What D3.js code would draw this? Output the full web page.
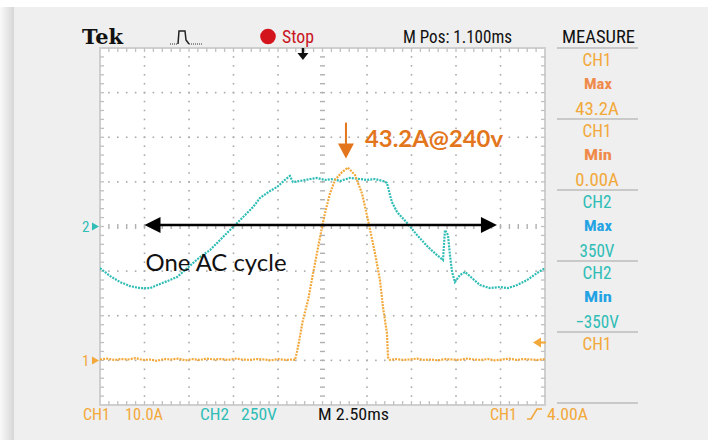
<!DOCTYPE html>
<html>
<head>
<meta charset="utf-8">
<script src="https://cdn.jsdelivr.net/npm/d3@7"></script>
<style>
  html, body { margin: 0; padding: 0; background: #fff; }
  svg { display: block; }
</style>
</head>
<body>
<svg id="scope" width="712" height="440"></svg>
<script>
// time across the screen, ms (10 div x 2.5 ms)
var ch1Time = [0, 0.4, 0.8, 1.2, 1.6, 2.0, 2.4, 2.8, 3.2, 3.6, 4.0, 4.4, 4.8, 5.2, 5.6, 6.0, 6.4, 6.8, 7.2, 7.6,
  8.0, 8.4, 8.8, 9.2, 9.6, 10.0, 10.4, 10.8,
  10.96, 11.12, 11.40, 11.69, 11.97, 12.25, 12.47, 12.64, 12.92, 13.20, 13.60, 13.93,
  14.33, 14.72, 15.06, 15.45, 15.73, 15.90, 16.12, 16.18, 16.29,
  16.6, 17.0, 17.4, 17.8, 18.2, 18.6, 19.0, 19.4, 19.8, 20.2, 20.6, 21.0, 21.4, 21.8, 22.2, 22.6,
  23.0, 23.4, 23.8, 24.2, 24.6, 25.0];
// CH1 current, A
var ch1Amps = [0.2, 0.4, 0.1, 0.3, 0.2, 0.5, 0.1, 0.2, -0.1, 0.3, 0.2, 0.4, 0.0, 0.3, 0.1, 0.4, 0.2, 0.3, 0.1, 0.4,
  0.2, 0.1, 0.3, 0.2, 0.0, 0.3, 0.1, 0.2,
  0.1, 2.9, 9.0, 13.5, 19.5, 25.3, 29.8, 33.0, 37.4, 40.4, 42.2, 43.2,
  41.5, 37.4, 31.4, 24.0, 17.9, 11.9, 6.1, 0.7, 0.1,
  0.3, 0.1, 0.2, 0.4, 0.1, 0.2, 0.0, 0.3, 0.2, 0.1, 0.4, 0.2, 0.1, 0.3, 0.0, 0.2,
  0.4, 0.1, 0.3, 0.2, 0.1, 0.3];

var ch2Time = [0, 0.56, 1.12, 1.69, 2.25, 2.81, 3.37, 3.93, 4.33, 4.78, 5.22, 5.62, 6.18, 6.74, 7.47, 7.87,
  8.60, 8.99, 9.55, 9.94, 10.39, 10.67, 10.84, 11.24, 11.80, 12.19, 12.64, 13.09, 13.48, 14.04, 14.61,
  15.00, 15.45, 15.90, 16.12, 16.29, 16.40, 16.69, 17.25, 17.81, 18.43, 18.93, 19.27, 19.38, 19.55,
  19.66, 19.78, 19.94, 20.22, 20.51, 20.90, 21.35, 21.91, 22.47, 22.92, 23.43, 23.99, 24.55, 25.0];
// CH2 voltage, V
var ch2Volts = [-233, -277, -311, -334, -345, -345, -322, -300, -283, -244, -205, -171, -132, -76, -3, 36,
  109, 160, 199, 221, 261, 283, 249, 255, 266, 272, 261, 266, 255, 272, 266,
  261, 266, 255, 244, 176, 137, 81, 20, -48, -115, -160, -188, -20, -48,
  -160, -255, -311, -272, -255, -289, -328, -345, -339, -345, -328, -300, -261, -233];

var cycleSpan = [2.5, 22.3];       // ms, "One AC cycle" marker
var peakTime = 13.93, peakAmps = 43.2;
var triggerLevel = 4.0;            // A
var triggerTime = 11.4;            // ms (M Pos 1.100ms left of centre)

var measureCh = ["CH1", "CH1", "CH2", "CH2", "CH1"];
var measureStat = ["Max", "Min", "Max", "Min", ""];
var measureVal = ["43.2A", "0.00A", "350V", "\u2212350V", ""];

var orange = "#f2a83a", orange2 = "#f08a4a", teal = "#2fbdb6", blue = "#23a3e3";
var scopeFont = "'Liberation Sans Narrow','Roboto Condensed','DejaVu Sans Condensed','Liberation Sans',sans-serif";

var svg = d3.select("#scope");
var pL = 100, pR = 545, pT = 48, pB = 405;

var x = d3.scaleLinear().domain([0, 25]).range([pL, pR]);
var yA = d3.scaleLinear().domain([-10, 70]).range([pB, pT]);
var yV = d3.scaleLinear().domain([-1000, 1000]).range([pB, pT]);

// background frame
var defs = svg.append("defs");
var sh = defs.append("linearGradient").attr("id", "shade");
sh.append("stop").attr("offset", "0%").attr("stop-color", "#fafafa");
sh.append("stop").attr("offset", "100%").attr("stop-color", "#d6d6d6");
svg.append("rect").attr("x", 0).attr("y", 0).attr("width", 712).attr("height", 440).attr("fill", "#fff");
svg.append("rect").attr("x", 0).attr("y", 7).attr("width", 14).attr("height", 433).attr("fill", "url(#shade)");
svg.append("rect").attr("x", 14).attr("y", 7).attr("width", 694).attr("height", 433).attr("fill", "#efefef");

function label(g, px, py, txt, o) {
  o = o || {};
  var t = g.append("text").attr("x", px).attr("y", py).text(txt)
    .attr("font-family", o.family || scopeFont)
    .attr("font-size", o.size || 18)
    .attr("font-weight", o.weight || "normal")
    .attr("fill", o.fill || "#111")
    .attr("text-anchor", o.anchor || "start");
  if (o.len) t.attr("textLength", o.len).attr("lengthAdjust", "spacingAndGlyphs");
  return t;
}

// plot area + graticule
var grid = svg.append("g");
grid.append("rect").attr("x", pL).attr("y", pT).attr("width", pR - pL).attr("height", pB - pT)
  .attr("fill", "#fff").attr("stroke", "#cfcfcf").attr("stroke-width", 2);

var majX = d3.range(0, 25.001, 2.5), minX = d3.range(0, 25.001, 0.5);
var majV = d3.range(-1000, 1000.1, 250), minV = d3.range(-1000, 1000.1, 50);

majX.slice(1, -1).forEach(function (t) {
  if (Math.abs(t - 12.5) < 0.01) return;
  grid.selectAll(null).data(minV.slice(1, -1)).enter().append("rect")
    .attr("x", x(t) - 0.8).attr("y", function (v) { return yV(v) - 0.8; })
    .attr("width", 1.6).attr("height", 1.6).attr("fill", "#aaaaaa");
});
majV.slice(1, -1).forEach(function (v) {
  if (v === 0) return;
  grid.selectAll(null).data(minX.slice(1, -1)).enter().append("rect")
    .attr("x", function (t) { return x(t) - 0.8; }).attr("y", yV(v) - 0.8)
    .attr("width", 1.6).attr("height", 1.6).attr("fill", "#aaaaaa");
});
// centre lines with minor ticks
grid.selectAll(null).data(minV.slice(1, -1)).enter().append("line")
  .attr("x1", x(12.5) - 2.5).attr("x2", x(12.5) + 2.5)
  .attr("y1", function (v) { return yV(v); }).attr("y2", function (v) { return yV(v); })
  .attr("stroke", "#b0b0b0").attr("stroke-width", 1.4);
grid.selectAll(null).data(minX.slice(1, -1)).enter().append("line")
  .attr("y1", yV(0) - 2.5).attr("y2", yV(0) + 2.5)
  .attr("x1", function (t) { return x(t); }).attr("x2", function (t) { return x(t); })
  .attr("stroke", "#b0b0b0").attr("stroke-width", 1.4);
// border ticks
[pT, pB].forEach(function (yy) {
  var d = yy === pT ? 1 : -1;
  grid.selectAll(null).data(minX.slice(1, -1)).enter().append("line")
    .attr("x1", function (t) { return x(t); }).attr("x2", function (t) { return x(t); })
    .attr("y1", yy).attr("y2", yy + 4 * d).attr("stroke", "#c0c0c0").attr("stroke-width", 1.3);
});
[pL, pR].forEach(function (xx) {
  var d = xx === pL ? 1 : -1;
  grid.selectAll(null).data(minV.slice(1, -1)).enter().append("line")
    .attr("y1", function (v) { return yV(v); }).attr("y2", function (v) { return yV(v); })
    .attr("x1", xx).attr("x2", xx + 4 * d).attr("stroke", "#c0c0c0").attr("stroke-width", 1.3);
});

// traces
defs.append("clipPath").attr("id", "clip").append("rect")
  .attr("x", pL).attr("y", pT).attr("width", pR - pL).attr("height", pB - pT);
var traces = svg.append("g").attr("clip-path", "url(#clip)");

var ch2Line = d3.line().x(function (d, i) { return x(ch2Time[i]); }).y(function (d) { return yV(d); });
var ch1Line = d3.line().x(function (d, i) { return x(ch1Time[i]); }).y(function (d) { return yA(d); });

traces.append("path").attr("d", ch2Line(ch2Volts)).attr("fill", "none")
  .attr("stroke", teal).attr("stroke-width", 2.2).attr("stroke-dasharray", "2 1.1");
traces.append("path").attr("d", ch1Line(ch1Amps)).attr("fill", "none")
  .attr("stroke", orange).attr("stroke-width", 2.2).attr("stroke-dasharray", "2 1.1");

// channel markers
var mk = svg.append("g");
label(mk, 82, yV(0) + 5.5, "2", { size: 15, fill: teal });
mk.append("path").attr("d", "M92," + (yV(0) - 4) + "L99," + yV(0) + "L92," + (yV(0) + 4) + "Z").attr("fill", teal);
label(mk, 82, yA(0) + 5.5, "1", { size: 15, fill: orange });
mk.append("path").attr("d", "M92," + (yA(0) - 4) + "L99," + yA(0) + "L92," + (yA(0) + 4) + "Z").attr("fill", orange);
// trigger level
var tl = yA(triggerLevel);
mk.append("path").attr("d", "M533," + tl + "L541," + (tl - 5) + "L541," + (tl + 5) + "Z").attr("fill", orange);
mk.append("line").attr("x1", 540).attr("x2", 546).attr("y1", tl).attr("y2", tl).attr("stroke", orange).attr("stroke-width", 2);
// trigger position
var tp = x(triggerTime);
mk.append("rect").attr("x", tp - 1.2).attr("y", 48).attr("width", 2.4).attr("height", 6).attr("fill", "#111");
mk.append("path").attr("d", "M" + (tp - 5.5) + ",53L" + (tp + 5.5) + ",53L" + tp + ",60Z").attr("fill", "#111");

// top bar
var topBar = svg.append("g");
label(topBar, 82, 44, "Tek", { family: "'DejaVu Serif','Liberation Serif',serif", weight: "bold", size: 21, len: 41 });
topBar.append("path").attr("d", "M170,44H178").attr("stroke", "#333").attr("stroke-width", 1.2).attr("stroke-dasharray", "1 1").attr("fill", "none");
topBar.append("path").attr("d", "M178,44L179,31H185L186,40L189,44").attr("stroke", "#222").attr("stroke-width", 1.5).attr("fill", "none");
topBar.append("path").attr("d", "M189,44H202").attr("stroke", "#333").attr("stroke-width", 1.2).attr("stroke-dasharray", "1 1").attr("fill", "none");
topBar.append("circle").attr("cx", 268).attr("cy", 36.5).attr("r", 7.8).attr("fill", "#d4141c");
label(topBar, 282, 43, "Stop", { fill: "#c8141e", size: 18, len: 32 });
label(topBar, 403, 43, "M Pos: 1.100ms", { size: 18, len: 109 });
label(topBar, 562, 43, "MEASURE", { size: 18, len: 73 });

// measure panel
var panel = svg.append("g");
var blockH = 71;
d3.range(6).forEach(function (i) {
  var yy = 48 + i * blockH;
  panel.append("line").attr("x1", 557).attr("x2", 638).attr("y1", yy).attr("y2", yy)
    .attr("stroke", "#bdbdbd").attr("stroke-width", 1.5);
});
measureCh.forEach(function (ch, i) {
  var y0 = 48 + i * blockH;
  var isCh1 = ch === "CH1";
  label(panel, 597, y0 + 17.5, ch, { anchor: "middle", fill: isCh1 ? orange : teal, size: 18, len: 29 });
  if (measureStat[i]) label(panel, 598, y0 + 40.5, measureStat[i],
    { anchor: "middle", fill: isCh1 ? orange2 : blue, size: 15, weight: "bold", len: 28 });
  if (measureVal[i]) label(panel, 597, y0 + 67, measureVal[i],
    { anchor: "middle", fill: isCh1 ? orange : teal, size: 18, len: measureVal[i].length * 8.6 + 0.5 });
});

// bottom bar
var bot = svg.append("g");
label(bot, 83, 420, "CH1", { fill: orange, size: 17, len: 27 });
label(bot, 125, 420, "10.0A", { fill: orange, size: 17, len: 38 });
label(bot, 200, 420, "CH2", { fill: teal, size: 17, len: 29 });
label(bot, 241, 420, "250V", { fill: teal, size: 17, len: 36 });
label(bot, 318, 420, "M 2.50ms", { fill: "#111", size: 17, len: 71 });
label(bot, 490, 420, "CH1", { fill: orange, size: 17, len: 27 });
bot.append("path").attr("d", "M527,419H531L537,409H542").attr("stroke", orange).attr("stroke-width", 1.6).attr("fill", "none");
label(bot, 547, 420, "4.00A", { fill: orange, size: 17, len: 41 });

// annotations
var ann = svg.append("g");
var ay = yV(0) - 1.5;
var ax0 = x(cycleSpan[0]), ax1 = x(cycleSpan[1]);
ann.append("line").attr("x1", ax0 + 10).attr("x2", ax1 - 10).attr("y1", ay).attr("y2", ay)
  .attr("stroke", "#000").attr("stroke-width", 2.6);
ann.append("path").attr("d", "M" + ax0 + "," + ay + "L" + (ax0 + 16) + "," + (ay - 8) + "L" + (ax0 + 16) + "," + (ay + 8) + "Z").attr("fill", "#000");
ann.append("path").attr("d", "M" + ax1 + "," + ay + "L" + (ax1 - 16) + "," + (ay - 8) + "L" + (ax1 - 16) + "," + (ay + 8) + "Z").attr("fill", "#000");
label(ann, ax0 + 1, ay + 46, "One AC cycle", { family: "Lato,'Open Sans',sans-serif", size: 23, fill: "#111", len: 141 });

var px = x(peakTime) - 2, py = yA(peakAmps);
ann.append("line").attr("x1", px).attr("x2", px).attr("y1", py - 45).attr("y2", py - 20)
  .attr("stroke", "#e3761c").attr("stroke-width", 2);
ann.append("path").attr("d", "M" + (px - 8) + "," + (py - 24) + "L" + (px + 8) + "," + (py - 24) + "L" + px + "," + (py - 9) + "Z").attr("fill", "#e3761c");
label(ann, 365, 147, "43.2A@240v", { family: "Lato,'Open Sans',sans-serif", weight: "bold", size: 23, fill: "#e3761c", len: 138 });
</script>
</body>
</html>
